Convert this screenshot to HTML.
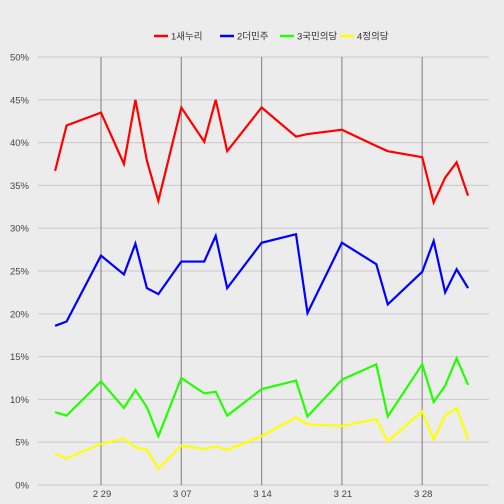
<!DOCTYPE html>
<html><head><meta charset="utf-8"><style>
body{margin:0;background:#ececec}
svg{display:block;font-family:"Liberation Sans","Noto Sans CJK KR",sans-serif}
</style></head><body>
<svg id="c" width="504" height="504"></svg>
<script>
const days=[-4,-3,0,2,3,4,5,7,9,10,11,14,17,18,21,24,25,28,29,30,31,32];
const seriesNames=["1새누리","2더민주","3국민의당","4정의당"];
const seriesColors=["#ff0000","#0000ff","#22ff00","#ffff00"];
const red=[36.7,42.0,43.5,37.5,45.0,37.9,33.2,44.1,40.1,45.0,39.0,44.1,40.7,41.0,41.5,39.6,39.0,38.3,33.0,35.9,37.7,33.8];
const blue=[18.6,19.1,26.8,24.6,28.2,23.0,22.3,26.1,26.1,29.1,23.0,28.3,29.3,20.1,28.3,25.8,21.1,24.9,28.5,22.5,25.2,23.0];
const green=[8.5,8.1,12.1,9.0,11.1,9.1,5.7,12.5,10.7,10.9,8.1,11.2,12.2,8.0,12.3,14.1,8.0,14.1,9.7,11.6,14.8,11.7];
const yellow=[3.7,3.1,4.8,5.4,4.4,4.1,1.9,4.6,4.2,4.5,4.1,5.7,7.9,7.1,6.9,7.7,5.1,8.6,5.3,8.1,9.0,5.3];
const yTicks=[0,5,10,15,20,25,30,35,40,45,50];
const xTickDays=[0,7,14,21,28];
const xTickLabels=["2 29","3 07","3 14","3 21","3 28"];
const NS="http://www.w3.org/2000/svg";
const svg=document.getElementById('c');
const X=d=>101+d*80.3/7;
const Y=v=>485-v*428/50;
function mk(t,a){const e=document.createElementNS(NS,t);for(const k in a)e.setAttribute(k,a[k]);svg.appendChild(e);return e;}
yTicks.forEach(v=>{
 const l=mk('line',{x1:38,x2:489,y1:Y(v),y2:Y(v),stroke:'#cfcfcf','stroke-width':1.2});
 
 
 const t=mk('text',{x:29,y:Y(v)+3.5,'text-anchor':'end','font-size':9.5,fill:'#444'});
 t.textContent=v+'%';
 
 
});
xTickDays.forEach((d,i)=>{
 const l=mk('line',{x1:X(d),x2:X(d),y1:57,y2:485,stroke:'#8f8f8f','stroke-width':1.2});
 
 
 const t=mk('text',{x:X(d)+1,y:497,'text-anchor':'middle','font-size':9.5,fill:'#444'});
 t.textContent=xTickLabels[i];
 
 
});
[red,blue,green,yellow].forEach((s,i)=>{
 const p=mk('polyline',{points:s.map((v,j)=>X(days[j])+','+Y(v)).join(' '),fill:'none',stroke:seriesColors[i],'stroke-width':2.2,'stroke-linejoin':'miter'});
 
 
});
const lx=[154,220,280,340];
seriesNames.forEach((n,i)=>{
 const l=mk('line',{x1:lx[i],x2:lx[i]+14,y1:36,y2:36,stroke:seriesColors[i],'stroke-width':2.5});
 
 
 const t=mk('text',{x:lx[i]+17,y:39.5,'font-size':9.5,fill:'#333'});
 t.textContent=n;
 
 
});
</script>
</body></html>
